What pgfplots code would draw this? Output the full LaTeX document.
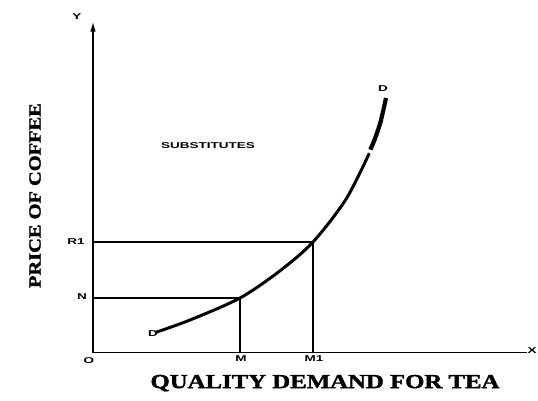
\documentclass[border=0pt]{standalone}
\usepackage{pgfplots}
\pgfplotsset{compat=1.18}
\usepackage{fontspec}
\setmainfont{Liberation Serif}
\setsansfont{Liberation Sans}
\newfontfamily\heavy{Liberation Serif}[BoldFeatures={FakeBold=1.6}]
\usetikzlibrary{arrows.meta}
\newcommand{\sm}[1]{{\sffamily\bfseries\fontsize{10}{11}\selectfont\scalebox{1.35}[0.85]{#1}}}
\begin{document}
\begin{tikzpicture}
\begin{axis}[
  x=1pt, y=1pt,
  xmin=0, xmax=434, ymin=0, ymax=331,
  axis lines=left,
  axis line style={line width=1.3pt, black},
  y axis line style={-{Latex[length=10pt,width=5.5pt]}},
  x axis line style={-},
  ticks=none,
  clip=false,
]
% bounding box of the whole picture (538 x 400)
\path[use as bounding box] (axis cs:-93,-47.4) rectangle (axis cs:445,352.6);

% guide lines
\addplot[black, line width=1.1pt] coordinates {(0,54.6) (147,54.6) (147,0)};
\addplot[black, line width=1.1pt] coordinates {(0,110.6) (220,110.6) (220,0)};

% demand curve (two pieces, small gap near the top)
\addplot[black, line width=3pt, smooth, tension=0.5] coordinates {
  (62,20) (97,32.6) (147,54.6) (187,81.8) (220,110.6) (253,153.4) (276.3,199.4)};
\addplot[black, line width=4.2pt, smooth, tension=0.5] coordinates {
  (277.4,203) (282,214) (287,228.8) (290,241) (293,254.6)};

% small labels
\node at (axis cs:-4,-8) {\sm{O}};
\node at (axis cs:-11,55.6) {\sm{N}};
\node at (axis cs:-17,110.6) {\sm{R1}};
\node at (axis cs:148,-6) {\sm{M}};
\node at (axis cs:221,-6) {\sm{M1}};
\node at (axis cs:439,2) {\sm{X}};
\node at (axis cs:-16,336) {\sm{Y}};
\node at (axis cs:60,18.6) {\sm{D}};
\node at (axis cs:290,263.6) {\sm{D}};
\node at (axis cs:115,206.6) {\sm{SUBSTITUTES}};

% axis titles
\node[rotate=90] at (axis cs:-58,157) {\heavy\bfseries\fontsize{17}{18}\selectfont\scalebox{1.2}[1]{PRICE OF COFFEE}};
\node at (axis cs:232,-30.5) {\heavy\bfseries\fontsize{21}{22}\selectfont\scalebox{1.18}[0.95]{QUALITY DEMAND FOR TEA}};
\end{axis}
\end{tikzpicture}
\end{document}
